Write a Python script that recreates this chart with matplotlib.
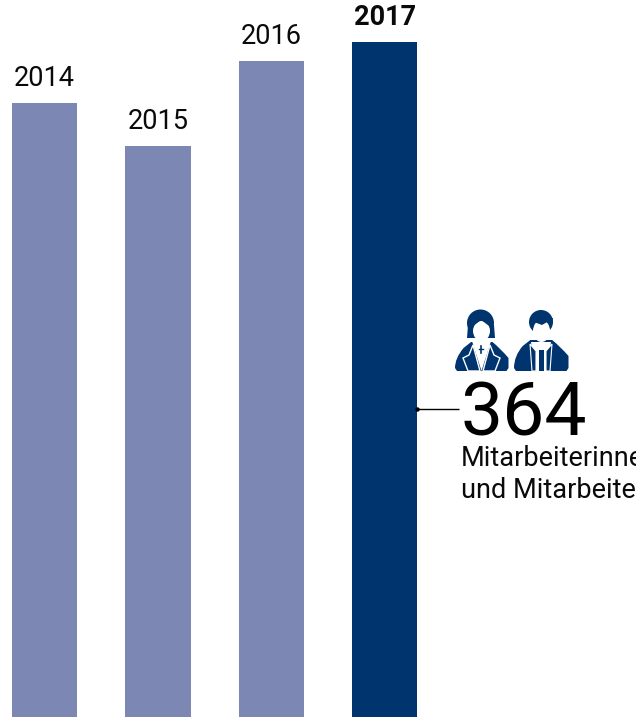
import matplotlib
matplotlib.use("Agg")
import matplotlib.pyplot as plt
from matplotlib.patches import Ellipse, Polygon, PathPatch
from matplotlib.path import Path

years = ["2014", "2015", "2016", "2017"]
values = [331, 308, 354, 364]
highlight_year = "2017"
headline = "364"
caption = ["Mitarbeiterinnen", "und Mitarbeiter"]

LIGHT = "#7c88b3"
DARK = "#00346e"
FONT = ["Liberation Sans Narrow", "Roboto", "DejaVu Sans"]
plt.rcParams["font.family"] = FONT

W, H = 636, 717
fig = plt.figure(figsize=(W / 100, H / 100), dpi=100, facecolor="white")
ax = fig.add_axes([0, 0, 1, 1])
ax.set_axis_off()

spacing = 113.5
ax.set_xlim(-44.5 / spacing, (W - 44.5) / spacing)
ax.set_ylim(0, H * 364 / 675)
xs = list(range(len(years)))
colors = [DARK if y == highlight_year else LIGHT for y in years]
ax.bar(xs, values, width=65 / spacing, color=colors, linewidth=0)

for x, v, y in zip(xs, values, years):
    bold = y == highlight_year
    ax.annotate(y, (x, v), xytext=(0, 11), textcoords="offset pixels",
                ha="center", va="bottom", fontsize=19.5, color="#0a0a0a",
                fontweight="bold" if bold else "normal")

# overlay in pixel coordinates for the callout and the icons
ov = fig.add_axes([0, 0, 1, 1], facecolor="none")
ov.set_axis_off()
ov.set_xlim(0, W)
ov.set_ylim(H, 0)

ov.plot([417, 459], [409, 409], color="black", lw=1.0, solid_capstyle="butt")
ov.plot([417], [409], "o", color="black", ms=3.2, mew=0)

ov.text(461, 436, headline, fontsize=54, color="black", ha="left", va="baseline")
ov.text(461, 466, caption[0], fontsize=19.5, color="#0a0a0a", ha="left", va="baseline")
ov.text(461, 498, caption[1], fontsize=19.5, color="#0a0a0a", ha="left", va="baseline")


def body(x0, x1, top, bottom):
    cx = (x0 + x1) / 2
    w = x1 - x0
    verts = [(x0, bottom - 3), (x0, top + 16), (x0 + w * 0.16, top + 6), (cx - w * 0.2, top),
             (cx + w * 0.2, top), (x1 - w * 0.16, top + 6), (x1, top + 16), (x1, bottom - 3),
             (x1 - 2, bottom), (x0 + 2, bottom), (x0, bottom - 3)]
    codes = [Path.MOVETO, Path.CURVE3, Path.CURVE3, Path.LINETO, Path.LINETO, Path.CURVE3,
             Path.CURVE3, Path.LINETO, Path.LINETO, Path.LINETO, Path.CLOSEPOLY]
    return PathPatch(Path(verts, codes), fc=DARK, ec="none")


# woman
ov.add_patch(body(455, 508.5, 342, 371))
ov.add_patch(Polygon([(472, 341), (491, 341), (481.5, 371)], fc="white", ec="none"))
ov.add_patch(Polygon([(473, 345), (480, 371), (468, 371), (463, 358), (469, 355)], fc=DARK, ec="white", lw=1))
ov.add_patch(Polygon([(490, 345), (483, 371), (495, 371), (500, 358), (494, 355)], fc=DARK, ec="white", lw=1))
ov.add_patch(Ellipse((480.5, 323), 27, 27, fc=DARK, ec="none"))
ov.add_patch(Polygon([(468, 325), (494, 325), (495, 338), (467, 338)], fc=DARK, ec="none"))
ov.add_patch(Ellipse((481.5, 331), 17, 20, fc="white", ec="none"))
ov.add_patch(Polygon([(472, 327), (481, 320), (492, 328), (492, 318), (472, 318)], fc=DARK, ec="none"))
ov.plot([481, 481], [346, 353], color=DARK, lw=1.2)
ov.plot([479, 483], [348.5, 348.5], color=DARK, lw=1)

# man
ov.add_patch(body(514, 568.5, 340, 371))
ov.add_patch(Polygon([(531, 342), (551, 342), (547, 371), (535, 371)], fc="white", ec="none"))
ov.add_patch(Polygon([(538.5, 350), (543.5, 350), (543.5, 371), (538.5, 371)], fc=DARK, ec="none"))
ov.add_patch(Polygon([(530, 344), (536, 351), (536, 371), (532, 371)], fc=DARK, ec="white", lw=0.8))
ov.add_patch(Polygon([(552, 344), (546, 351), (546, 371), (550, 371)], fc=DARK, ec="white", lw=0.8))
ov.add_patch(Ellipse((541, 322), 24, 24, fc=DARK, ec="none"))
ov.add_patch(Ellipse((541.5, 331), 17, 22, fc="white", ec="none"))
ov.add_patch(Polygon([(532, 328), (534, 322), (542, 325), (549, 321), (551, 328), (553, 318), (530, 318)], fc=DARK, ec="none"))

fig.savefig("out.png", dpi=100, facecolor="white")
